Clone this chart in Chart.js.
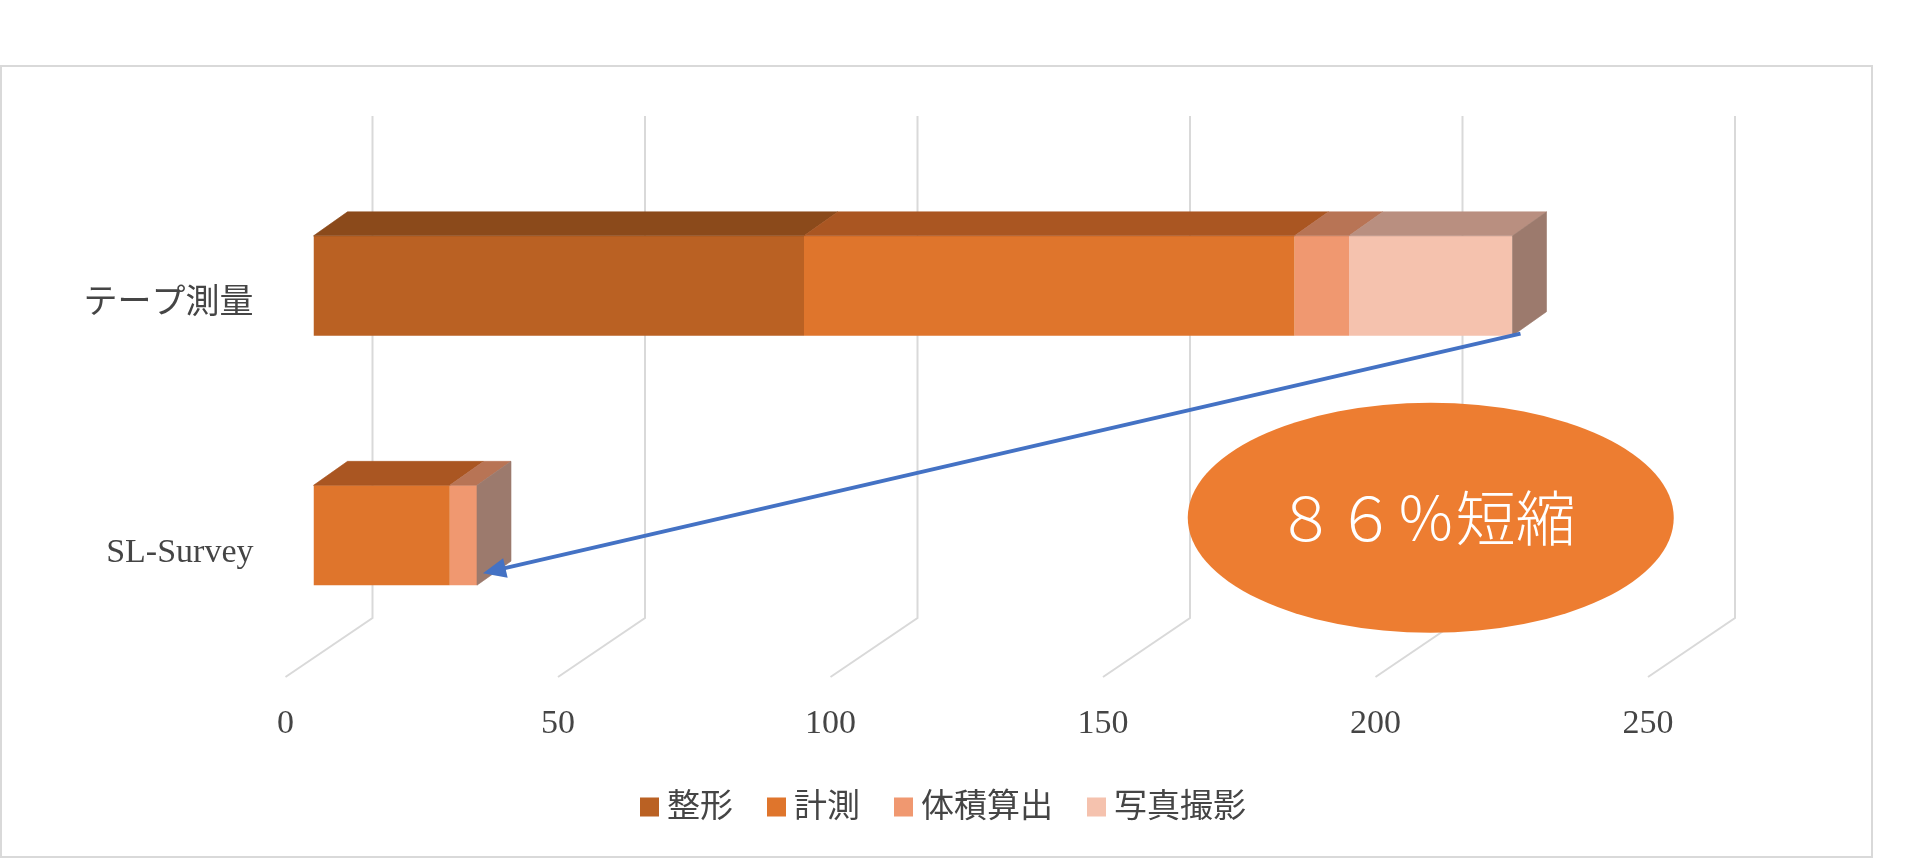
<!DOCTYPE html>
<html lang="ja">
<head>
<meta charset="utf-8">
<title>作業時間の比較</title>
<script src="https://cdn.jsdelivr.net/npm/chart.js@4.4.1/dist/chart.umd.min.js"></script>
<style>
  html, body { margin: 0; padding: 0; background: #fff; overflow: hidden; }
  #chart { display: block; }
</style>
</head>
<body>
<canvas id="chart" width="1920" height="859"></canvas>
<script>
var categories = ['テープ測量', 'SL-Survey'];
var seriesNames = ['整形', '計測', '体積算出', '写真撮影'];
var seikei = [90, 0];
var keisoku = [90, 25];
var taiseki = [10, 5];
var shashin = [30, 0];
var xTicks = [0, 50, 100, 150, 200, 250];
var calloutText = '８６％短縮';

var frontColors = ['#BA6123', '#DF752C', '#F09870', '#F5C2AE'];
var topColors = ['#8B4A1B', '#AA5622', '#B87455', '#B98F80'];
var sideColor = '#9C7A6D';
var gridColor = '#D9D9D9';
var textColor = '#454545';
var serif = "'Liberation Serif', 'Noto Sans CJK JP', serif";

// 3D offsets (px)
var depth = { dx: 34, dy: -24 };
var wall = { backDx: 59, frontDx: -28, top: -45, floor: -42, front: 17 };

function lastSegment(chart, index) {
    var sets = chart.data.datasets;
    for (var d = sets.length - 1; d >= 0; d--) {
        if (sets[d].data[index] > 0) return d;
    }
    return -1;
}

function barProps(chart, di, index) {
    return chart.getDatasetMeta(di).data[index].getProps(['x', 'y', 'base', 'height'], true);
}

var excel3d = {
    id: 'excel3d',
    beforeDraw: function (chart) {
        var ctx = chart.ctx;
        ctx.save();
        ctx.fillStyle = '#fff';
        ctx.fillRect(0, 0, chart.width, chart.height);
        ctx.restore();
    },
    beforeDatasetsDraw: function (chart) {
        var ctx = chart.ctx, xs = chart.scales.x, area = chart.chartArea;
        ctx.save();
        ctx.strokeStyle = gridColor;
        ctx.lineWidth = 2;
        xs.ticks.forEach(function (t) {
            var px = xs.getPixelForValue(t.value);
            ctx.beginPath();
            ctx.moveTo(px + wall.backDx, area.top + wall.top);
            ctx.lineTo(px + wall.backDx, area.bottom + wall.floor);
            ctx.lineTo(px + wall.frontDx, area.bottom + wall.front);
            ctx.stroke();
        });
        ctx.restore();
    },
    afterDatasetsDraw: function (chart) {
        var ctx = chart.ctx;
        ctx.save();
        ctx.lineWidth = 0.6;
        chart.data.datasets.forEach(function (ds, di) {
            ds.data.forEach(function (v, i) {
                if (!v) return;
                var p = barProps(chart, di, i);
                var top = p.y - p.height / 2;
                ctx.fillStyle = topColors[di];
                ctx.strokeStyle = topColors[di];
                ctx.beginPath();
                ctx.moveTo(p.base, top);
                ctx.lineTo(p.x, top);
                ctx.lineTo(p.x + depth.dx, top + depth.dy);
                ctx.lineTo(p.base + depth.dx, top + depth.dy);
                ctx.closePath();
                ctx.fill();
                ctx.stroke();
                if (lastSegment(chart, i) === di) {
                    ctx.fillStyle = sideColor;
                    ctx.strokeStyle = sideColor;
                    ctx.beginPath();
                    ctx.moveTo(p.x, top);
                    ctx.lineTo(p.x + depth.dx, top + depth.dy);
                    ctx.lineTo(p.x + depth.dx, top + p.height + depth.dy);
                    ctx.lineTo(p.x, top + p.height);
                    ctx.closePath();
                    ctx.fill();
                    ctx.stroke();
                }
            });
        });
        ctx.restore();
    },
    afterDraw: function (chart) {
        var ctx = chart.ctx;
        var xs = chart.scales.x, ys = chart.scales.y;
        ctx.save();

        // arrow from the long bar to the short one
        var a = barProps(chart, lastSegment(chart, 0), 0);
        var b = barProps(chart, lastSegment(chart, 1), 1);
        var x1 = a.x + 8, y1 = a.y + a.height / 2 - 2;
        var x2 = b.x + 6, y2 = b.y + b.height / 2 - 12;
        var ang = Math.atan2(y2 - y1, x2 - x1);
        var cos = Math.cos(ang), sin = Math.sin(ang);
        ctx.strokeStyle = '#4472C4';
        ctx.fillStyle = '#4472C4';
        ctx.lineWidth = 4;
        ctx.beginPath();
        ctx.moveTo(x1, y1);
        ctx.lineTo(x2 - 18 * cos, y2 - 18 * sin);
        ctx.stroke();
        ctx.beginPath();
        ctx.moveTo(x2, y2);
        ctx.lineTo(x2 - 23 * cos + 10 * sin, y2 - 23 * sin - 10 * cos);
        ctx.lineTo(x2 - 23 * cos - 10 * sin, y2 - 23 * sin + 10 * cos);
        ctx.closePath();
        ctx.fill();

        // callout ellipse
        var cx = xs.getPixelForValue(205), cy = ys.getPixelForValue(0.93);
        ctx.fillStyle = '#ED7D31';
        ctx.beginPath();
        ctx.ellipse(cx, cy, 243, 115, 0, 0, Math.PI * 2);
        ctx.fill();
        ctx.fillStyle = '#fff';
        ctx.font = "300 60px 'Noto Sans CJK JP', sans-serif";
        ctx.textAlign = 'center';
        ctx.textBaseline = 'middle';
        ctx.fillText(calloutText, cx - 5, cy);

        // legend
        ctx.font = '33px ' + serif;
        ctx.textAlign = 'left';
        var box = 19, gap = 8, itemGap = 34, total = 0;
        var widths = chart.data.datasets.map(function (ds) {
            return ctx.measureText(ds.label).width;
        });
        widths.forEach(function (w) { total += box + gap + w; });
        total += itemGap * (widths.length - 1);
        var lx = 943 - total / 2, ly = 807;
        chart.data.datasets.forEach(function (ds, di) {
            ctx.fillStyle = ds.backgroundColor;
            ctx.fillRect(lx, ly - box / 2, box, box);
            ctx.fillStyle = textColor;
            ctx.fillText(ds.label, lx + box + gap, ly + 1);
            lx += box + gap + widths[di] + itemGap;
        });

        // chart frame
        ctx.strokeStyle = gridColor;
        ctx.lineWidth = 2;
        ctx.strokeRect(1, 66, 1871, 791);
        ctx.restore();
    }
};

var seriesData = [seikei, keisoku, taiseki, shashin];

var ctx1 = document.getElementById('chart').getContext('2d');
var myChart1 = new Chart(ctx1, {
    type: 'bar',
    data: {
        labels: categories,
        datasets: seriesNames.map(function (name, i) {
            return {
                label: name,
                data: seriesData[i],
                backgroundColor: frontColors[i],
                borderWidth: 0,
                barPercentage: 0.4,
                categoryPercentage: 1
            };
        })
    },
    options: {
        indexAxis: 'y',
        responsive: false,
        animation: false,
        devicePixelRatio: 1,
        events: [],
        layout: {
            padding: { left: 0, right: 244, top: 161, bottom: 79 }
        },
        plugins: {
            legend: { display: false },
            tooltip: { enabled: false }
        },
        scales: {
            x: {
                stacked: true,
                min: 0,
                max: 250,
                afterBuildTicks: function (scale) {
                    scale.ticks = xTicks.map(function (v) { return { value: v }; });
                },
                afterFit: function (scale) { scale.height = 120; },
                grid: { display: false, drawTicks: false },
                border: { display: false },
                ticks: {
                    padding: 44,
                    labelOffset: -28,
                    color: textColor,
                    font: { family: serif, size: 34 }
                }
            },
            y: {
                stacked: true,
                afterFit: function (scale) { scale.width = 313.5; },
                grid: { display: false, drawTicks: false },
                border: { display: false },
                ticks: {
                    padding: 60,
                    labelOffset: 18,
                    color: textColor,
                    font: { family: serif, size: 34 }
                }
            }
        }
    },
    plugins: [excel3d]
});
</script>
</body>
</html>
